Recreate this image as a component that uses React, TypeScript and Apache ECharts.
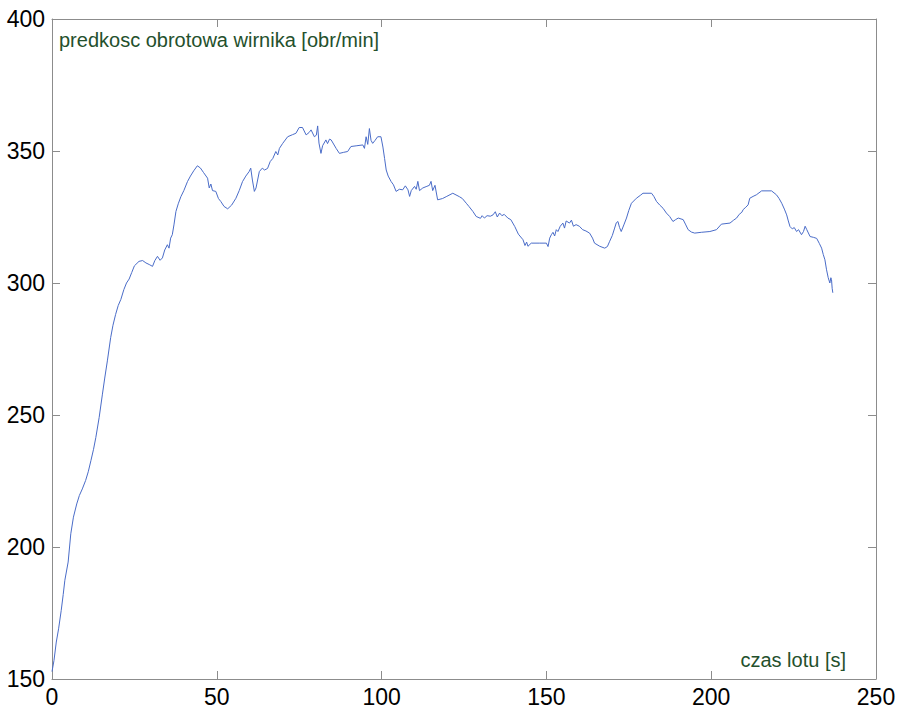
import React, { useEffect, useRef } from "react";
import * as echarts from "echarts";

// Flight time [s]
const time: number[] = [
  0, 0.6, 1.3, 2.0, 2.8, 3.4, 3.9, 4.9, 5.7, 6.5, 7.5, 8.3, 9.2, 10.2, 11.0, 11.8, 12.6, 13.3,
  14.3, 15.3, 16.0, 16.8, 17.8, 18.5, 19.3, 20.1, 20.9, 21.8, 22.6, 23.4, 24.2, 25.0, 26.4, 27.5,
  28.5, 29.5, 30.5, 31.2, 32.0, 32.8, 33.5, 34.2, 35.0, 35.5, 36.0, 36.5, 37.0, 37.6, 38.3, 39.1,
  40.0, 41.1, 42.0, 43.0, 44.1, 45.0, 46.0, 47.2, 47.7, 48.2, 48.7, 49.7, 50.5, 51.2, 52.2, 53.3,
  54.5, 55.8, 56.8, 57.8, 58.8, 59.8, 60.3, 60.8, 61.4, 61.9, 62.9, 63.8, 64.5, 65.4, 66.2, 67.0,
  67.9, 68.5, 69.0, 70.0, 71.5, 73.0, 74.0, 75.0, 76.0, 77.1, 78.0, 78.6, 79.6, 80.2, 80.6, 81.0,
  81.6, 82.1, 83.1, 83.6, 84.2, 84.7, 86.2, 87.2, 88.5, 89.7, 90.7, 92.5, 94.3, 94.8, 95.3, 95.8,
  96.3, 96.8, 97.3, 98.0, 98.8, 99.8, 100.4, 100.9, 101.4, 102.0, 102.9, 103.6, 104.4, 105.4,
  106.4, 107.2, 108.0, 108.5, 109.0, 110.0, 110.5, 111.0, 111.5, 112.5, 113.5, 114.5, 115.0,
  115.5, 116.2, 117.0, 118.5, 119.6, 121.6, 123.6, 124.5, 125.7, 126.5, 127.7, 128.7, 130.0,
  130.5, 131.2, 132.0, 133.0, 133.8, 134.5, 135.1, 135.8, 136.5, 137.2, 138.3, 139.2, 140.4,
  141.5, 142.9, 143.5, 144.0, 144.4, 145.4, 148.0, 150.0, 150.5, 151.0, 151.5, 152.0, 152.5,
  153.0, 153.5, 154.2, 155.0, 155.5, 156.0, 157.0, 157.6, 158.2, 159.0, 160.0, 161.0, 162.0,
  163.1, 164.0, 164.6, 166.2, 167.7, 168.5, 169.2, 170.0, 170.7, 171.2, 171.7, 172.2, 172.7,
  173.5, 174.3, 175.0, 175.8, 177.3, 178.5, 179.3, 181.9, 182.6, 183.4, 184.4, 185.4, 186.4,
  187.4, 188.4, 189.2, 190.0, 191.5, 192.3, 193.0, 194.0, 195.0, 197.0, 199.6, 201.6, 203.1,
  205.7, 206.8, 207.7, 208.5, 209.3, 209.7, 210.5, 211.2, 211.7, 212.7, 213.7, 215.3, 218.3,
  219.8, 220.6, 221.4, 222.2, 222.9, 223.4, 223.9, 224.6, 225.2, 225.9, 226.5, 227.4, 228.0,
  228.5, 229.0, 230.0, 231.0, 232.0, 232.8, 233.5, 234.0, 234.5, 235.0, 235.5, 236.0, 236.3,
  236.5, 236.7, 236.9,
];

// Rotor speed [obr/min]
const rpm: number[] = [
  152.8, 157, 164, 169, 176, 182, 187.4, 194.3, 205, 211.3, 216.3, 219.5, 222, 225.2, 228.5, 232.7,
  237, 241.5, 249, 257.9, 264, 270.5, 279.3, 284, 288.1, 291.5, 293.8, 297.5, 300, 301.5, 304,
  306.5, 308.2, 308.5, 307.6, 307, 306.3, 308.5, 310.1, 308.6, 309.5, 312.5, 314.5, 313.2, 317,
  318.3, 322, 327.1, 330, 332.7, 335, 338.4, 340.5, 342.5, 344.4, 343.6, 341.8, 339.7, 336, 337.5,
  335, 334.7, 332, 330.9, 329, 328.1, 329.5, 332.1, 335, 338.4, 340.5, 342.2, 343.5, 339, 334.7,
  336, 342.2, 343.5, 342.8, 343.4, 346, 347.2, 349.8, 348.5, 351, 352.9, 355.4, 356.2, 356.7,
  358.9, 358.9, 356.1, 357, 358, 355.4, 356, 359.5, 353, 349.1, 352, 354.2, 352.8, 354.5, 354.2,
  351, 349.1, 349.5, 349.8, 351.7, 352, 352.3, 351, 355.4, 352.5, 358.5, 354, 352.9, 354, 355.4,
  355.4, 351.5, 347.2, 342.8, 340.5, 338.4, 337.2, 334.7, 335.5, 335.3, 336.8, 335.3, 332.8, 335,
  336.6, 335.5, 338.5, 335, 336, 336.5, 337, 338.5, 335, 337, 331.5, 332, 332.7, 334, 332.7, 332,
  330.2, 329, 327.1, 325.2, 324.5, 325.5, 324.6, 325.5, 325.3, 325.8, 327, 325, 326.5, 325.5, 326,
  324.6, 324, 321.4, 318.5, 316.4, 314.2, 315.5, 313.9, 315.1, 315.1, 315.1, 313.8, 317, 318.3,
  319.2, 317.8, 320.2, 319.5, 321.5, 322.7, 320.8, 323.5, 322.7, 323.8, 321.5, 322.1, 321.5,
  320.2, 319.7, 318.9, 317, 315.1, 313.9, 313.2, 313.8, 315.8, 318, 320.8, 322.8, 323.3, 321,
  319.5, 322, 324.6, 327.5, 330.2, 332.1, 333.2, 334, 334, 332.8, 330.9, 329.5, 328.3, 326.5,
  325.2, 323.3, 324, 324.6, 324, 322, 320.2, 319.3, 318.9, 319.2, 319.5, 320.2, 322.3, 322.7,
  323.8, 324.6, 326, 326.8, 327.8, 328.7, 329.6, 332.1, 332.8, 333.4, 334.9, 334.9, 333.4, 332,
  330.2, 328, 325.8, 323.5, 321.4, 320.5, 321, 319.5, 320.2, 318.3, 319.5, 321.5, 320.2, 317.6,
  317.3, 316.9, 315, 313.2, 310.8, 308.8, 305, 302, 300, 302, 301.3, 298, 296.3,
];

const xTicks = { min: 0, max: 250, step: 50 };
const yTicks = { min: 150, max: 400, step: 50 };

const yLabel = "predkosc obrotowa wirnika [obr/min]";
const xLabel = "czas lotu [s]";

const FONT = '"Liberation Sans", Arial, sans-serif';
const FRAME = "#8c8c8c";

export default function App() {
  const ref = useRef<HTMLDivElement>(null);

  useEffect(() => {
    if (!ref.current) return;
    const chart = echarts.init(ref.current, undefined, { renderer: "svg" });

    const tickStyle = { show: true, inside: true, length: 8, lineStyle: { color: FRAME, width: 1 } };
    const lineStyle = { show: true, onZero: false, lineStyle: { color: FRAME, width: 1 } };
    const labelStyle = { color: "#000", fontSize: 23, fontFamily: FONT };

    const xBase = {
      type: "value" as const,
      min: xTicks.min,
      max: xTicks.max,
      interval: xTicks.step,
      axisLine: lineStyle,
      axisTick: tickStyle,
      splitLine: { show: false },
    };
    const yBase = {
      type: "value" as const,
      min: yTicks.min,
      max: yTicks.max,
      interval: yTicks.step,
      axisLine: lineStyle,
      axisTick: tickStyle,
      splitLine: { show: false },
    };

    chart.setOption({
      animation: false,
      backgroundColor: "#fff",
      grid: { left: 52, right: 27, top: 19, bottom: 33, containLabel: false },
      xAxis: [
        { ...xBase, position: "bottom", axisLabel: { ...labelStyle, margin: 6 } },
        { ...xBase, position: "top", axisLabel: { show: false } },
      ],
      yAxis: [
        { ...yBase, position: "left", axisLabel: { ...labelStyle, margin: 7 } },
        { ...yBase, position: "right", axisLabel: { show: false } },
      ],
      series: [
        {
          type: "line",
          xAxisIndex: 0,
          yAxisIndex: 0,
          data: time.map((t, i) => [t, rpm[i]]),
          showSymbol: false,
          symbol: "none",
          lineStyle: { color: "#4a6cc8", width: 1 },
        },
      ],
      graphic: [
        {
          type: "text",
          left: 59,
          top: 30,
          style: { text: yLabel, fill: "#24502c", fontSize: 20, fontFamily: FONT },
        },
        {
          type: "text",
          right: 57,
          top: 650,
          style: { text: xLabel, fill: "#24502c", fontSize: 20, fontFamily: FONT },
        },
      ],
    });

    return () => chart.dispose();
  }, []);

  return (
    <div
      ref={ref}
      style={{ position: "fixed", left: 0, top: 0, width: 903, height: 712, background: "#fff" }}
    />
  );
}
